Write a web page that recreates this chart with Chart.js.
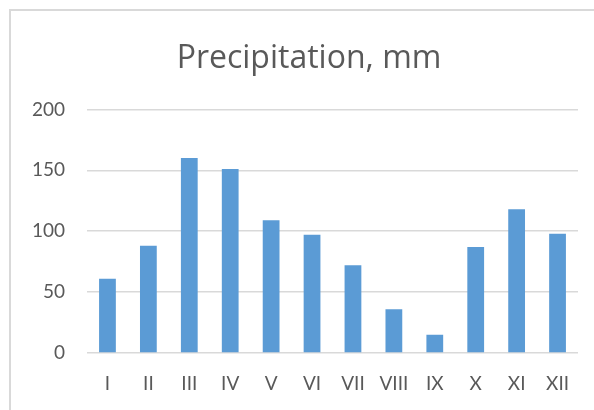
<!DOCTYPE html>
<html>
<head>
  <title>Precipitation, mm</title>
  <script src="https://cdn.jsdelivr.net/npm/chart.js"></script>
  <style>
    html, body { margin: 0; padding: 0; background: #fff; overflow: hidden; }
    #frame {
      position: absolute; left: 9px; top: 9px; width: 640px; height: 460px;
      border-left: 2px solid #d9d9d9; border-top: 2px solid #d9d9d9;
    }
    #wrap { position: absolute; left: 0; top: 0; width: 594px; height: 410px; }
  </style>
</head>
<body>
  <div id="frame"></div>
  <div id="wrap"><canvas id="rainChart"></canvas></div>
  <script>
    // месяцы и осадки, мм
    var months = ['I', 'II', 'III', 'IV', 'V', 'VI', 'VII', 'VIII', 'IX', 'X', 'XI', 'XII'];
    var precipitation = [61, 88, 160, 151, 109, 97, 72, 36, 15, 87, 118, 98];
    var yTicks = [0, 50, 100, 150, 200];

    var textColor = '#595959';
    var fontFamily = 'Lato, "Open Sans", sans-serif';

    // сдвигаем заголовок, чтобы он был по центру рамки, а не всего холста
    var shiftTitle = {
      id: 'shiftTitle',
      afterLayout: function (chart) {
        if (chart.titleBlock) chart.titleBlock.left = 40;
      }
    };

    var ctx = document.getElementById('rainChart').getContext('2d');
    var chart = new Chart(ctx, {
      type: 'bar',
      data: {
        labels: months,
        datasets: [{
          label: 'Precipitation, mm',
          data: precipitation,
          backgroundColor: '#5b9bd5',
          borderWidth: 0,
          categoryPercentage: 1,
          barPercentage: 0.41
        }]
      },
      options: {
        responsive: true,
        maintainAspectRatio: false,
        animation: false,
        layout: { padding: { left: 0, right: 16, top: 0, bottom: 0 } },
        plugins: {
          legend: { display: false },
          tooltip: { enabled: false },
          title: {
            display: true,
            text: 'Precipitation, mm',
            color: textColor,
            font: { family: '"Open Sans", sans-serif', size: 32, weight: 'normal' },
            padding: { top: 40, bottom: 31 }
          }
        },
        scales: {
          x: {
            grid: { display: false, drawTicks: false },
            border: { display: false },
            ticks: {
              color: textColor,
              font: { family: fontFamily, size: 19 },
              padding: 19,
              maxRotation: 0
            },
            afterFit: function (scale) { scale.height = 57; }
          },
          y: {
            min: 0,
            max: 200,
            afterBuildTicks: function (scale) {
              scale.ticks = yTicks.map(function (v) { return { value: v }; });
            },
            grid: { color: '#d9d9d9', lineWidth: 1.5, drawTicks: false },
            border: { display: false },
            ticks: {
              color: textColor,
              font: { family: fontFamily, size: 19 },
              padding: 22
            },
            afterFit: function (scale) { scale.width = 87; }
          }
        }
      },
      plugins: [shiftTitle]
    });
  </script>
</body>
</html>
